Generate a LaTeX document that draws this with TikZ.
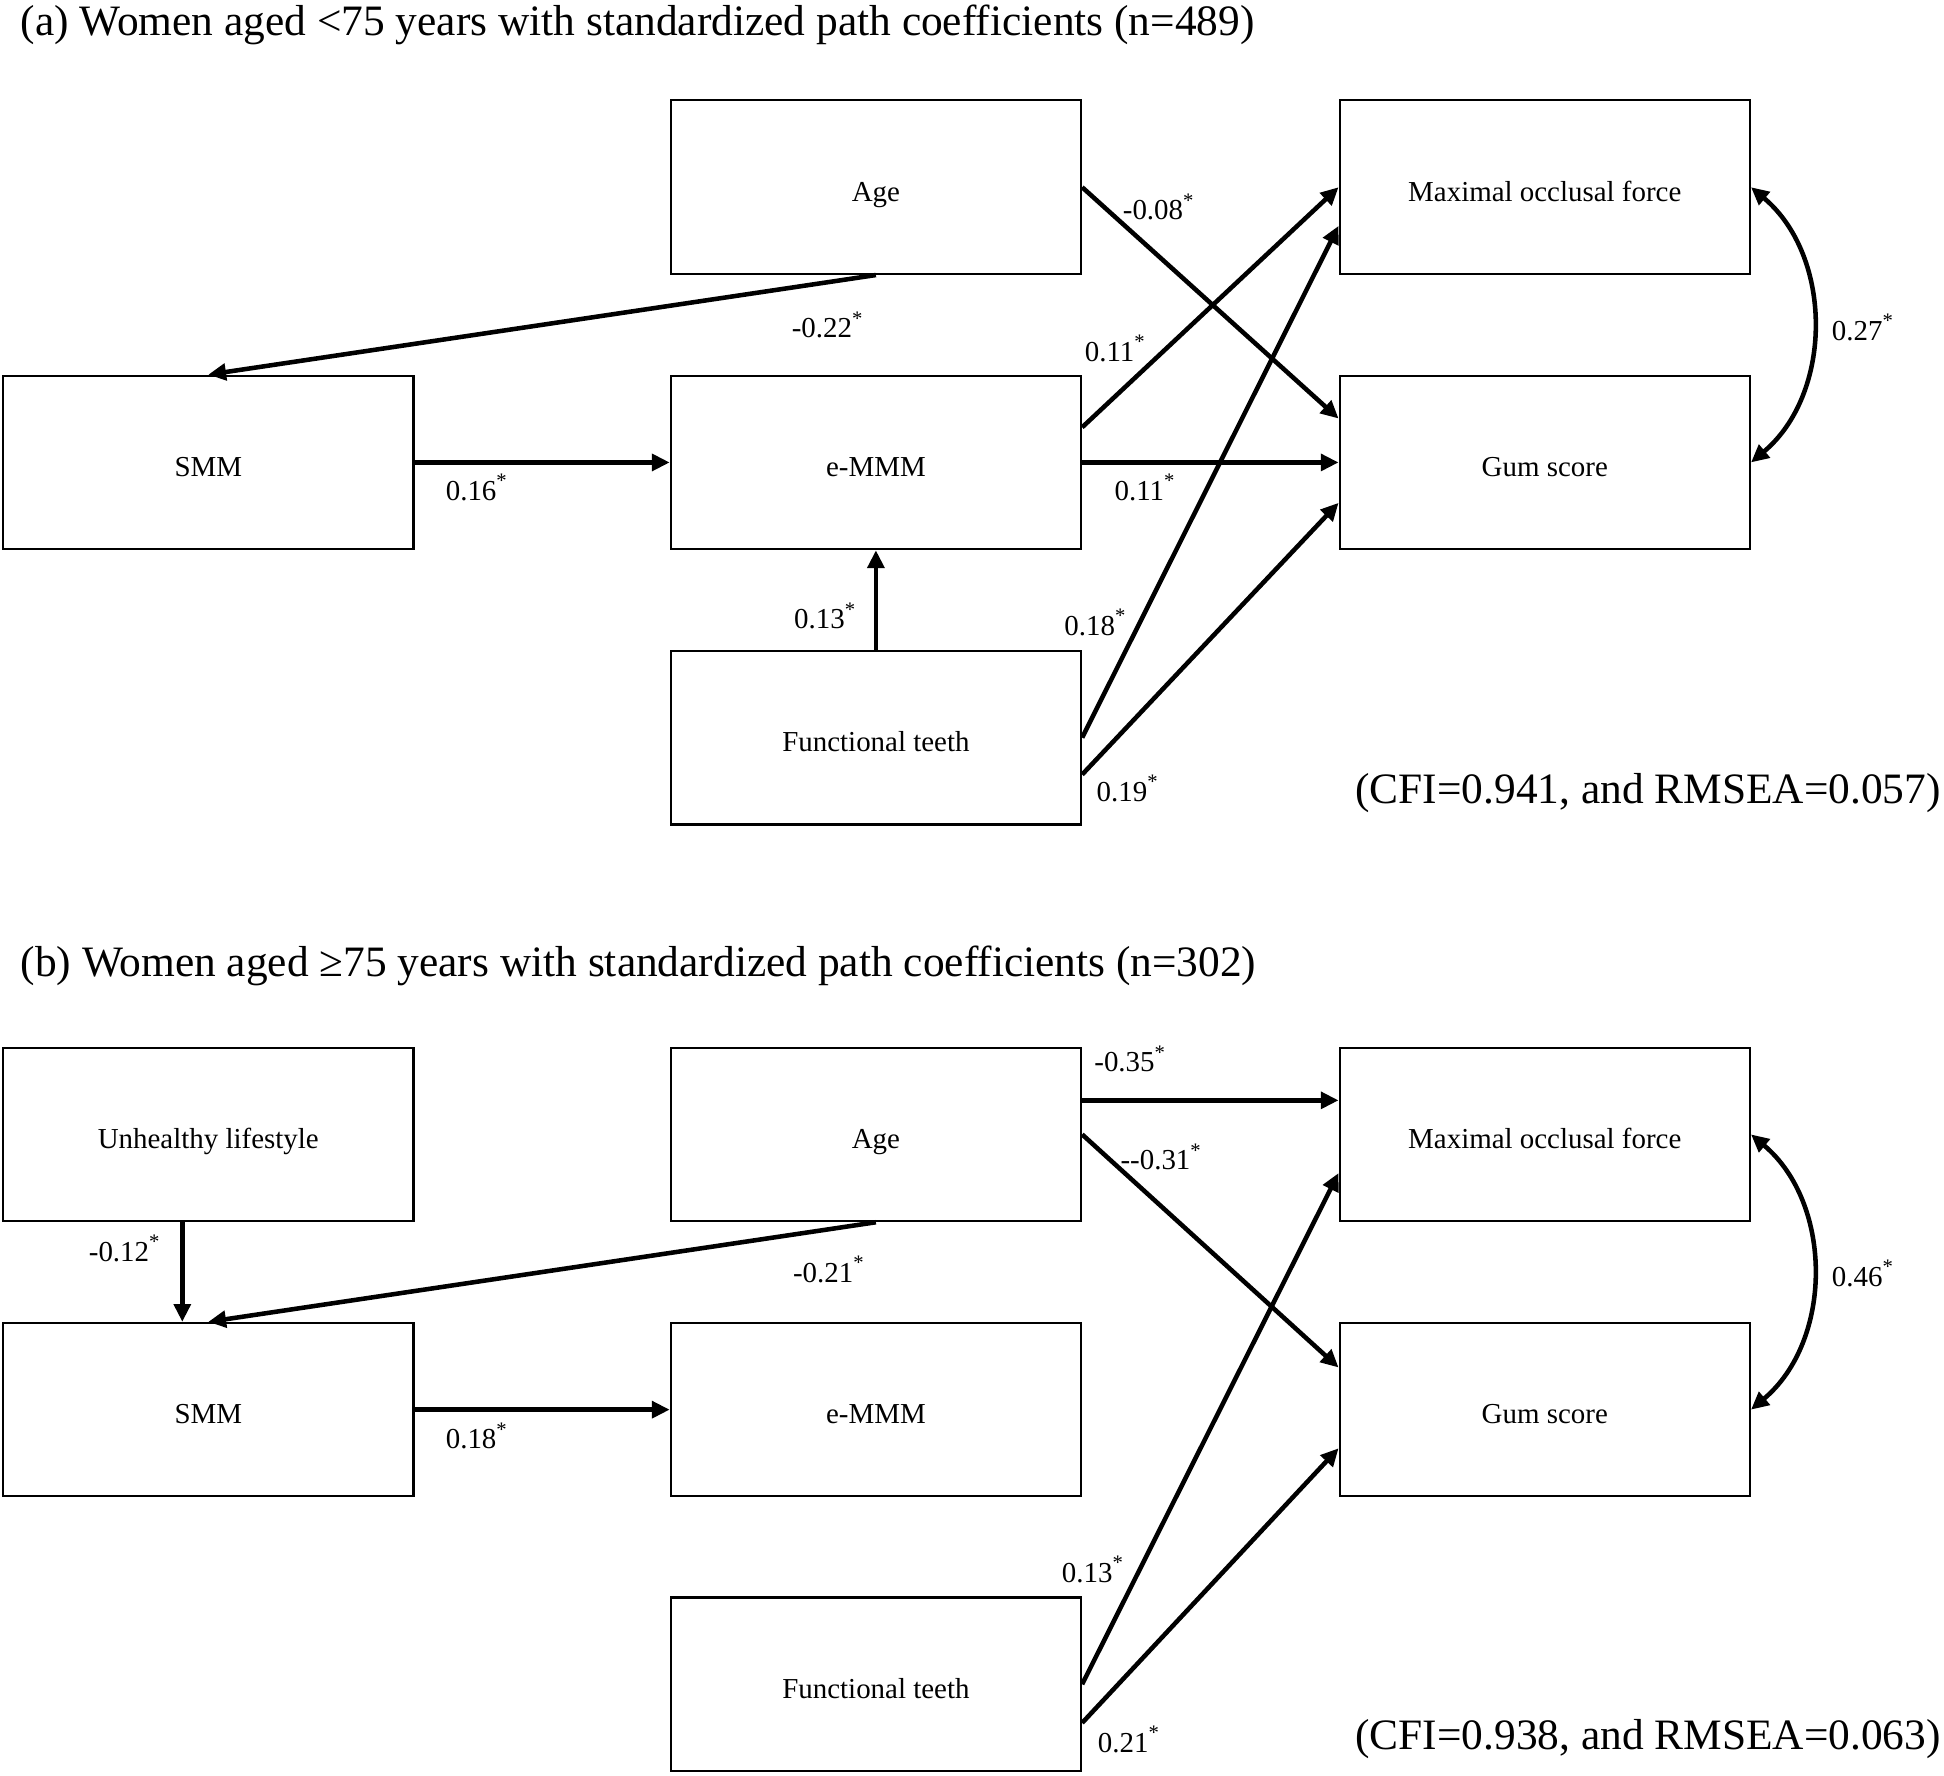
\documentclass[tikz,border=0pt]{standalone}
\usepackage{fontspec}
\setmainfont{Liberation Serif}
\usetikzlibrary{arrows.meta,calc}
\begin{document}
\begin{tikzpicture}[x=0.3pt,y=-0.3pt,
  box/.style={draw,line width=0.5pt,minimum width=99.3pt,minimum height=42pt,inner sep=0pt,text height=0.68em,text depth=0pt,font=\fontsize{7}{8}\selectfont},
  lbl/.style={inner sep=0pt,font=\fontsize{7}{8}\selectfont},
  ttl/.style={inner sep=0pt,font=\fontsize{10.5}{12}\selectfont},
  arr/.style={line width=1.1pt,-{Triangle[length=4.3pt,width=4pt]}},
  cov/.style={line width=1.1pt,{Triangle[length=4.3pt,width=4pt]}-{Triangle[length=4.3pt,width=4pt]}}]
\useasboundingbox (0,0) rectangle (1568,1432);

% ---------- panel (a) ----------
\node[ttl,anchor=base west] (tA) at (16,29) {(a) Women aged <75 years with standardized path coefficients (n=489)};
\node[box] (ageA) at (706.5,151) {Age};
\node[box] (moA) at (1246,151) {Maximal occlusal force};
\node[box] (smmA) at (168,373) {SMM};
\node[box] (emmA) at (706.5,373) {e-MMM};
\node[box] (gumA) at (1246,373) {Gum score};
\node[box] (ftA) at (706.5,595) {Functional teeth};

\draw[arr] (ageA.south) -- (smmA.north);
\draw[arr] (ageA.east) -- ($(gumA.north west)!0.25!(gumA.south west)$);
\draw[arr] ($(emmA.north east)!0.30!(emmA.south east)$) -- (moA.west);
\draw[arr] (emmA.east) -- (gumA.west);
\draw[arr] (ftA.east) -- ($(moA.north west)!0.72!(moA.south west)$);
\draw[arr] ($(ftA.north east)!0.71!(ftA.south east)$) -- ($(gumA.north west)!0.73!(gumA.south west)$);
\draw[arr] (ftA.north) -- (emmA.south);
\draw[arr] (smmA.east) -- (emmA.west);
\draw[cov] (moA.east) to[bend left=50] (gumA.east);

\node[lbl] (la1) at (668,262) {-0.22\textsuperscript{*}};
\node[lbl] (la2) at (935,167) {-0.08\textsuperscript{*}};
\node[lbl] (la3) at (900,281) {0.11\textsuperscript{*}};
\node[lbl] (la4) at (924,393) {0.11\textsuperscript{*}};
\node[lbl] (la5) at (666,497) {0.13\textsuperscript{*}};
\node[lbl] (la6) at (884,502) {0.18\textsuperscript{*}};
\node[lbl] (la7) at (910,636) {0.19\textsuperscript{*}};
\node[lbl] (la8) at (385,393) {0.16\textsuperscript{*}};
\node[lbl] (la9) at (1503,264) {0.27\textsuperscript{*}};
\node[ttl,anchor=east] (fitA) at (1566,640) {(CFI=0.941, and RMSEA=0.057)};

% ---------- panel (b) ----------
\node[ttl,anchor=base west] (tB) at (16,788) {(b) Women aged ≥75 years with standardized path coefficients (n=302)};
\node[box] (ulB) at (168,915) {Unhealthy lifestyle};
\node[box] (ageB) at (706.5,915) {Age};
\node[box] (moB) at (1246,915) {Maximal occlusal force};
\node[box] (smmB) at (168,1137) {SMM};
\node[box] (emmB) at (706.5,1137) {e-MMM};
\node[box] (gumB) at (1246,1137) {Gum score};
\node[box] (ftB) at (706.5,1358.5) {Functional teeth};

\coordinate (ulOut) at ($(ulB.south west)!0.437!(ulB.south east)$);
\draw[arr] (ulOut) -- (ulOut |- smmB.north);
\draw[arr] (ageB.south) -- (smmB.north);
\draw[arr] (smmB.east) -- (emmB.west);
\coordinate (ageOut) at ($(ageB.north east)!0.306!(ageB.south east)$);
\draw[arr] (ageOut) -- (ageOut -| moB.west);
\draw[arr] (ageB.east) -- ($(gumB.north west)!0.26!(gumB.south west)$);
\draw[arr] (ftB.east) -- ($(moB.north west)!0.72!(moB.south west)$);
\draw[arr] ($(ftB.north east)!0.72!(ftB.south east)$) -- ($(gumB.north west)!0.72!(gumB.south west)$);
\draw[cov] (moB.east) to[bend left=50] (gumB.east);

\node[lbl] (lb1) at (101,1007) {-0.12\textsuperscript{*}};
\node[lbl] (lb2) at (669,1024) {-0.21\textsuperscript{*}};
\node[lbl] (lb3) at (385,1158) {0.18\textsuperscript{*}};
\node[lbl] (lb4) at (912,854) {-0.35\textsuperscript{*}};
\node[lbl] (lb5) at (937,933) {-{}-0.31\textsuperscript{*}};
\node[lbl] (lb6) at (882,1266) {0.13\textsuperscript{*}};
\node[lbl] (lb7) at (911,1403) {0.21\textsuperscript{*}};
\node[lbl] (lb8) at (1503,1027) {0.46\textsuperscript{*}};
\node[ttl,anchor=east] (fitB) at (1566,1403) {(CFI=0.938, and RMSEA=0.063)};
\end{tikzpicture}
\end{document}
